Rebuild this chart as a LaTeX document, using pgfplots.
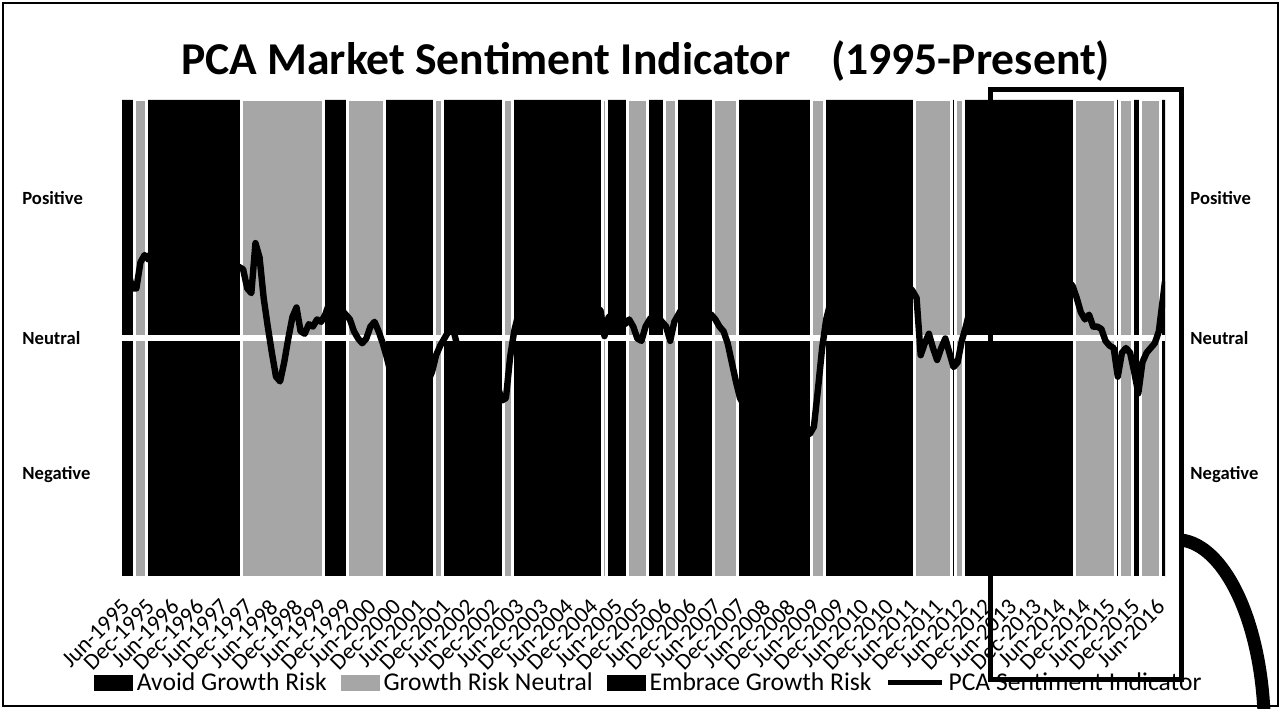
\documentclass[border=0pt]{standalone}
\usepackage{pgfplots}
\pgfplotsset{compat=1.18}
\usepackage{pgfplotstable}
\usepackage{fontspec}
\setmainfont{Carlito}
\definecolor{neutralgray}{gray}{0.65}

% PCA sentiment indicator, monthly, x = month index + 0.5 (Jun-1995 = 0), neutral = 1
\pgfplotstableread{
x v
0.5 1.24
1.5 1.28
2.5 1.21
3.5 1.21
4.5 1.32
5.5 1.35
6.5 1.33
7.5 1.38
8.5 1.42
9.5 1.36
10.5 1.40
11.5 1.45
12.5 1.38
13.5 1.42
14.5 1.35
15.5 1.40
16.5 1.46
17.5 1.42
18.5 1.38
19.5 1.44
20.5 1.40
21.5 1.36
22.5 1.42
23.5 1.38
24.5 1.33
25.5 1.37
26.5 1.31
27.5 1.28
28.5 1.30
29.5 1.29
30.5 1.21
31.5 1.19
32.5 1.40
33.5 1.34
34.5 1.17
35.5 1.05
36.5 0.94
37.5 0.84
38.5 0.82
39.5 0.90
40.5 1.00
41.5 1.09
42.5 1.13
43.5 1.03
44.5 1.02
45.5 1.06
46.5 1.05
47.5 1.08
48.5 1.07
49.5 1.10
50.5 1.15
51.5 1.18
52.5 1.15
53.5 1.12
54.5 1.10
55.5 1.08
56.5 1.03
57.5 1.00
58.5 0.98
59.5 1.00
60.5 1.05
61.5 1.07
62.5 1.03
63.5 0.98
64.5 0.92
65.5 0.85
66.5 0.80
67.5 0.84
68.5 0.78
69.5 0.82
70.5 0.80
71.5 0.86
72.5 0.78
73.5 0.75
74.5 0.82
75.5 0.86
76.5 0.93
77.5 0.97
78.5 1.00
79.5 1.03
80.5 1.05
81.5 0.98
82.5 0.88
83.5 0.82
84.5 0.85
85.5 0.78
86.5 0.80
87.5 0.84
88.5 0.79
89.5 0.82
90.5 0.76
91.5 0.80
92.5 0.74
93.5 0.75
94.5 0.92
95.5 1.03
96.5 1.10
97.5 1.15
98.5 1.18
99.5 1.22
100.5 1.20
101.5 1.24
102.5 1.22
103.5 1.25
104.5 1.20
105.5 1.22
106.5 1.18
107.5 1.20
108.5 1.16
109.5 1.18
110.5 1.15
111.5 1.17
112.5 1.14
113.5 1.16
114.5 1.12
115.5 1.10
116.5 1.12
117.5 1.01
118.5 1.09
119.5 1.10
120.5 1.12
121.5 1.08
122.5 1.06
123.5 1.08
124.5 1.05
125.5 1.00
126.5 0.99
127.5 1.05
128.5 1.08
129.5 1.10
130.5 1.09
131.5 1.07
132.5 1.05
133.5 0.99
134.5 1.07
135.5 1.10
136.5 1.13
137.5 1.15
138.5 1.12
139.5 1.14
140.5 1.10
141.5 1.12
142.5 1.09
143.5 1.10
144.5 1.08
145.5 1.05
146.5 1.03
147.5 0.98
148.5 0.90
149.5 0.82
150.5 0.75
151.5 0.72
152.5 0.68
153.5 0.65
154.5 0.66
155.5 0.60
156.5 0.55
157.5 0.50
158.5 0.45
159.5 0.42
160.5 0.38
161.5 0.34
162.5 0.32
163.5 0.36
164.5 0.45
165.5 0.55
166.5 0.62
167.5 0.60
168.5 0.63
169.5 0.79
170.5 0.96
171.5 1.08
172.5 1.15
173.5 1.20
174.5 1.24
175.5 1.22
176.5 1.26
177.5 1.20
178.5 1.18
179.5 1.22
180.5 1.25
181.5 1.28
182.5 1.24
183.5 1.27
184.5 1.30
185.5 1.26
186.5 1.22
187.5 1.25
188.5 1.20
189.5 1.23
190.5 1.19
191.5 1.22
192.5 1.20
193.5 1.17
194.5 0.93
195.5 0.98
196.5 1.02
197.5 0.96
198.5 0.91
199.5 0.96
200.5 1.00
201.5 0.94
202.5 0.88
203.5 0.90
204.5 0.99
205.5 1.05
206.5 1.12
207.5 1.18
208.5 1.22
209.5 1.20
210.5 1.25
211.5 1.28
212.5 1.24
213.5 1.30
214.5 1.32
215.5 1.28
216.5 1.31
217.5 1.35
218.5 1.30
219.5 1.27
220.5 1.32
221.5 1.29
222.5 1.26
223.5 1.30
224.5 1.27
225.5 1.24
226.5 1.28
227.5 1.25
228.5 1.22
229.5 1.26
230.5 1.24
231.5 1.22
232.5 1.17
233.5 1.11
234.5 1.08
235.5 1.10
236.5 1.05
237.5 1.05
238.5 1.04
239.5 0.99
240.5 0.97
241.5 0.96
242.5 0.84
243.5 0.94
244.5 0.96
245.5 0.94
246.5 0.86
247.5 0.77
248.5 0.90
249.5 0.94
250.5 0.96
251.5 0.98
252.5 1.03
253.5 1.17
254.0 1.24
}\pcaline

\begin{document}
\begin{tikzpicture}
\path[use as bounding box] (0bp,0bp) rectangle (640.5bp,354.5bp);
\draw[line width=1bp] (1.5bp,1.5bp) rectangle (639bp,353bp);
\node[font=\bfseries\fontsize{22.8bp}{26bp}\selectfont] at (322.8bp,324bp)
  {PCA Market Sentiment Indicator\hspace{0.9em}(1995-Present)};

\begin{axis}[
  at={(61bp,66bp)}, anchor=south west, scale only axis,
  width=521.5bp, height=238.5bp,
  xmin=0, xmax=254, ymin=0, ymax=2,
  axis line style={draw=none}, major tick length=0pt,
  xtick={0.5,6.5,...,252.5},
  xticklabels={Jun-1995,Dec-1995,Jun-1996,Dec-1996,Jun-1997,Dec-1997,Jun-1998,Dec-1998,Jun-1999,Dec-1999,Jun-2000,Dec-2000,Jun-2001,Dec-2001,Jun-2002,Dec-2002,Jun-2003,Dec-2003,Jun-2004,Dec-2004,Jun-2005,Dec-2005,Jun-2006,Dec-2006,Jun-2007,Dec-2007,Jun-2008,Dec-2008,Jun-2009,Dec-2009,Jun-2010,Dec-2010,Jun-2011,Dec-2011,Jun-2012,Dec-2012,Jun-2013,Dec-2013,Jun-2014,Dec-2014,Jun-2015,Dec-2015,Jun-2016},
  xticklabel style={yshift=-13bp, xshift=1bp, rotate=45, anchor=east, inner sep=0pt,
    font=\fontsize{11.5bp}{13bp}\selectfont},
  ytick={0.43,1,1.59}, yticklabels={Negative,Neutral,Positive},
  yticklabel style={anchor=west, inner sep=0pt, xshift=-50bp,
    font=\bfseries\fontsize{9.3bp}{11bp}\selectfont},
  legend style={at={(0.506,-0.222)}, anchor=center, draw=none, fill=none,
    legend columns=4, inner sep=0pt,
    font=\fontsize{12.8bp}{15bp}\selectfont,
    /tikz/every even column/.append style={column sep=5bp}},
  legend cell align=left,
]
% legend entries
\addlegendimage{legend image code/.code={\fill[black] (-2bp,-3.75bp) rectangle (17bp,3.75bp);}}
\addlegendentry{Avoid Growth Risk}
\addlegendimage{legend image code/.code={\fill[neutralgray] (-2bp,-3.75bp) rectangle (17bp,3.75bp);}}
\addlegendentry{Growth Risk Neutral}
\addlegendimage{legend image code/.code={\fill[black] (-2bp,-3.75bp) rectangle (17bp,3.75bp);}}
\addlegendentry{Embrace Growth Risk}
\addlegendimage{legend image code/.code={\draw[black, line width=2.5bp] (-4bp,0bp) -- (23bp,0bp);}}
\addlegendentry{PCA Sentiment Indicator}

% Avoid Growth Risk regimes
\addplot[ybar interval, fill=black, draw=none, forget plot] coordinates {
 (0,0) (64,2) (76,0) (78,2) (93,0) (150,2) (168,0) (202,2) (203,0) (242,2) (243,0) (246,2) (248,0) (254,0)};
% Embrace Growth Risk regimes
\addplot[ybar interval, fill=black, draw=none, forget plot] coordinates {
 (0,2) (3,0) (6,2) (29,0) (49,2) (55,0) (95,2) (117,0) (118,2) (123,0) (128,2) (132,0) (135,2) (144,0) (171,2) (193,0) (205,2) (232,0) (253,2) (254,0)};
% Growth Risk Neutral regimes
\addplot[ybar interval, fill=neutralgray, draw=white, line width=1.5bp, forget plot] coordinates {
 (0,0) (3,2) (6,0) (29,2) (49,0) (55,2) (64,0) (76,2) (78,0) (93,2) (95,0) (117,2) (118,0) (123,2) (128,0) (132,2) (135,0) (144,2) (150,0) (168,2) (171,0) (193,2) (202,0) (203,2) (205,0) (232,2) (242,0) (243,2) (246,0) (248,2) (253,0) (254,0)};
% neutral line
\addplot[white, line width=3bp, forget plot] coordinates {(0,1) (254,1)};
% indicator
\addplot[black, line width=3.2bp, line join=round, forget plot] table[x=x, y=v] {\pcaline};
\end{axis}

\begin{axis}[
  at={(61bp,66bp)}, anchor=south west, scale only axis,
  width=521.5bp, height=238.5bp,
  xmin=0, xmax=254, ymin=0, ymax=2,
  axis line style={draw=none}, major tick length=0pt,
  xtick=\empty, yticklabel pos=right,
  ytick={0.43,1,1.59}, yticklabels={Negative,Neutral,Positive},
  yticklabel style={anchor=west, inner sep=0pt, xshift=12.5bp,
    font=\bfseries\fontsize{9.3bp}{11bp}\selectfont},
]
\end{axis}

% hand-drawn annotation
\draw[line width=2.5bp] (495bp,309.5bp) rectangle (590.5bp,14.5bp);
\draw[line width=6.5bp] (590.5bp,84.5bp) .. controls (612bp,82bp) and (630bp,45bp) .. (632bp,-2bp);
\end{tikzpicture}
\end{document}
